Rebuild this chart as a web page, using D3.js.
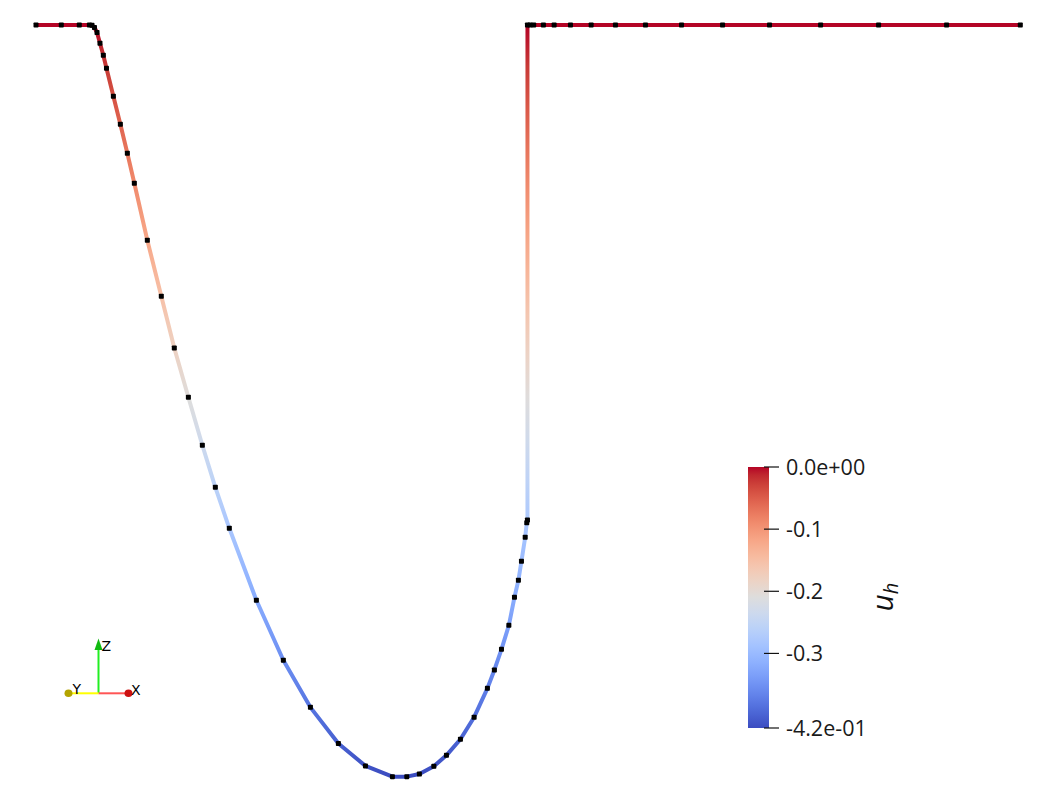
<!DOCTYPE html>
<html>
<head>
<meta charset="utf-8">
<script src="https://cdn.jsdelivr.net/npm/d3@7"></script>
<style>
  html, body { margin: 0; padding: 0; background: #ffffff; }
  svg { display: block; }
</style>
</head>
<body>
<svg id="chart" width="1057" height="793"></svg>
<script>
// ---------- data ----------
// nodal positions (normalised coordinate) and nodal values of u_h
const xs = [
  0.0000, 0.0257, 0.0440, 0.0543, 0.0569, 0.0594, 0.0620,
  0.0650, 0.0684, 0.0716, 0.0786, 0.0857, 0.0928, 0.0999,
  0.1131, 0.1273, 0.1405, 0.1548, 0.1690, 0.1822, 0.1964,
  0.2239, 0.2513, 0.2788, 0.3072, 0.3347, 0.3621, 0.3767,
  0.3895, 0.4042, 0.4170, 0.4312, 0.4451, 0.4586, 0.4657,
  0.4729, 0.4804, 0.4861, 0.4901, 0.4932, 0.4970, 0.4986,
  0.4993, 0.4993, 0.5020, 0.5056, 0.5155, 0.5264, 0.5430,
  0.5640, 0.5887, 0.6192, 0.6558, 0.6975, 0.7452, 0.7971,
  0.8560, 0.9251, 1.0000
];
const us = [
  0.0000, 0.0000, 0.0000, 0.0000, -0.0002, -0.0014, -0.0042,
  -0.0102, -0.0169, -0.0242, -0.0398, -0.0554, -0.0716, -0.0884,
  -0.1202, -0.1515, -0.1804, -0.2079, -0.2347, -0.2582, -0.2811,
  -0.3213, -0.3548, -0.3811, -0.4013, -0.4138, -0.4198, -0.4198,
  -0.4183, -0.4140, -0.4079, -0.3989, -0.3866, -0.3705, -0.3602,
  -0.3487, -0.3353, -0.3196, -0.3101, -0.2995, -0.2861, -0.2780,
  -0.2765, 0.0000, 0.0000, 0.0000, 0.0000, 0.0000, 0.0000,
  0.0000, 0.0000, 0.0000, 0.0000, 0.0000, 0.0000, 0.0000,
  0.0000, 0.0000, 0.0000
];
const uRange = [-0.42, 0.0];
const barTicks = [0.0, -0.1, -0.2, -0.3, -0.42];
const barTickLabels = ["0.0e+00", "-0.1", "-0.2", "-0.3", "-4.2e-01"];
const barTitle = "u";
const barTitleSub = "h";
// Cool to Warm (Moreland) colour map control points
const cmapRGB = [
  [59,76,192],[68,90,204],[77,104,215],[87,117,225],[98,130,234],[108,142,241],
  [119,154,247],[130,165,251],[141,176,254],[152,185,255],[163,194,255],[174,201,253],
  [184,208,249],[194,213,244],[204,217,238],[213,219,230],[221,221,221],[229,216,209],
  [236,211,197],[241,204,185],[245,196,173],[247,187,160],[247,177,148],[247,166,135],
  [244,154,123],[241,141,111],[236,127,99],[229,112,88],[222,96,77],[213,80,66],
  [203,62,56],[192,40,47],[180,4,38]
];

// ---------- scales ----------
const svg = d3.select("#chart");
svg.append("rect").attr("width", 1057).attr("height", 793).attr("fill", "#fff");

const x = d3.scaleLinear().domain([0, 1]).range([36, 1020.3]);
const y = d3.scaleLinear().domain(uRange).range([777, 25]);

const cmapDomain = cmapRGB.map((_, i) => uRange[0] + (uRange[1] - uRange[0]) * i / (cmapRGB.length - 1));
const color = d3.scaleLinear()
  .domain(cmapDomain)
  .range(cmapRGB.map(c => d3.rgb(c[0], c[1], c[2]).toString()))
  .interpolate(d3.interpolateRgb)
  .clamp(true);

const defs = svg.append("defs");
const pts = xs.map((v, i) => ({x: v, u: us[i]}));

// ---------- coloured line ----------
const segs = d3.range(pts.length - 1).map(i => ({a: pts[i], b: pts[i + 1], i}));
const nStops = 12;
segs.forEach(s => {
  const g = defs.append("linearGradient")
    .attr("id", "seg" + s.i)
    .attr("gradientUnits", "userSpaceOnUse")
    .attr("x1", x(s.a.x)).attr("y1", y(s.a.u))
    .attr("x2", x(s.b.x)).attr("y2", y(s.b.u));
  d3.range(nStops + 1).forEach(k => {
    const t = k / nStops;
    g.append("stop").attr("offset", t)
      .attr("stop-color", color(s.a.u + t * (s.b.u - s.a.u)));
  });
});
svg.append("g").selectAll("line").data(segs).join("line")
  .attr("x1", d => x(d.a.x)).attr("y1", d => y(d.a.u))
  .attr("x2", d => x(d.b.x)).attr("y2", d => y(d.b.u))
  .attr("stroke", d => `url(#seg${d.i})`)
  .attr("stroke-width", 4)
  .attr("stroke-linecap", "round");

// ---------- nodes ----------
const ds = 5;
svg.append("g").selectAll("rect").data(pts).join("rect")
  .attr("x", d => x(d.x) - ds / 2).attr("y", d => y(d.u) - ds / 2)
  .attr("width", ds).attr("height", ds)
  .attr("rx", 0.8)
  .attr("fill", "#000");

// ---------- colour bar ----------
const bar = svg.append("g");
const by = d3.scaleLinear().domain(uRange).range([728, 467]);
const bg = defs.append("linearGradient").attr("id", "bargrad")
  .attr("x1", 0).attr("y1", 1).attr("x2", 0).attr("y2", 0);
cmapRGB.forEach((c, i) => {
  bg.append("stop").attr("offset", i / (cmapRGB.length - 1))
    .attr("stop-color", d3.rgb(c[0], c[1], c[2]));
});
bar.append("rect").attr("x", 748).attr("y", by(uRange[1]))
  .attr("width", 21).attr("height", by(uRange[0]) - by(uRange[1]))
  .attr("fill", "url(#bargrad)");
bar.selectAll("line.tick").data(barTicks).join("line")
  .attr("class", "tick")
  .attr("x1", 764).attr("x2", 779)
  .attr("y1", d => by(d)).attr("y2", d => by(d))
  .attr("stroke", "#111").attr("stroke-width", 1.2);
bar.selectAll("text.lab").data(barTicks).join("text")
  .attr("class", "lab")
  .attr("x", 786).attr("y", d => by(d))
  .attr("dy", "0.36em")
  .attr("font-family", "'Open Sans', sans-serif")
  .attr("font-size", 21.5)
  .attr("fill", "#1a1a1a")
  .text((d, i) => barTickLabels[i]);
const title = bar.append("text")
  .attr("transform", "translate(893,597) rotate(-90)")
  .attr("text-anchor", "middle")
  .attr("font-family", "'Open Sans', sans-serif")
  .attr("font-style", "italic")
  .attr("font-size", 30)
  .attr("fill", "#111");
title.append("tspan").text(barTitle);
title.append("tspan").attr("font-size", 20).attr("dy", 5).text(barTitleSub);

// ---------- orientation triad ----------
const tri = svg.append("g");
const ox = 98.5, oy = 693.3;
tri.append("line").attr("x1", ox).attr("y1", oy).attr("x2", ox).attr("y2", 648)
  .attr("stroke", "#22ee22").attr("stroke-width", 2);
tri.append("path").attr("d", `M${ox},638.5 L${ox - 4},650 L${ox + 4},650 Z`).attr("fill", "#11bb11");
tri.append("line").attr("x1", ox).attr("y1", oy).attr("x2", 126).attr("y2", oy)
  .attr("stroke", "#ff5555").attr("stroke-width", 2);
tri.append("ellipse").attr("cx", 128.5).attr("cy", oy).attr("rx", 4).attr("ry", 3.8).attr("fill", "#cc1111");
tri.append("line").attr("x1", ox).attr("y1", oy).attr("x2", 71).attr("y2", oy)
  .attr("stroke", "#ffff00").attr("stroke-width", 2);
tri.append("ellipse").attr("cx", 68.5).attr("cy", oy).attr("rx", 4).attr("ry", 3.8).attr("fill", "#b3a400");
const triLab = [["Z", 101.5, 650.5], ["X", 131, 694.5], ["Y", 72.5, 693.5]];
tri.selectAll("text").data(triLab).join("text")
  .attr("x", d => d[1]).attr("y", d => d[2])
  .attr("font-family", "'DejaVu Sans', sans-serif")
  .attr("font-size", 14)
  .attr("fill", "#000")
  .text(d => d[0]);
</script>
</body>
</html>
